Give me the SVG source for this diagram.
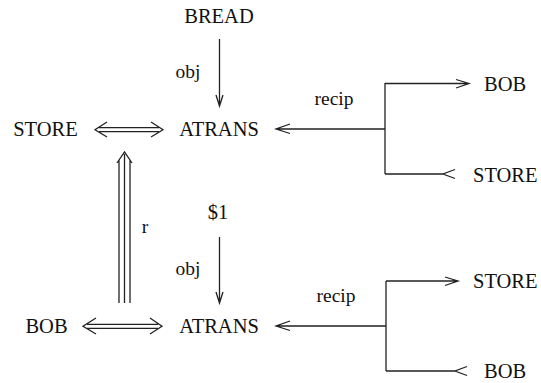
<svg xmlns="http://www.w3.org/2000/svg" width="541" height="383" viewBox="0 0 541 383">
<style>
text{font-family:"Liberation Serif","Times New Roman",serif;font-size:20.5px;fill:#111}
.lbl{font-size:19.5px}
.ln{fill:none;stroke:#222;stroke-width:1.3;stroke-linejoin:miter}
</style>
<rect width="541" height="383" fill="#fff"/>
<g id="connectors">
  <path class="ln" d="M219.5,39 V106 M216,95 L219.5,106 L223,95"/>
  <path class="ln" d="M99,127.7 H159 M99,131.7 H159 M107,122 L95,129.7 L107,137 M151,122 L163,129.7 L151,137"/>
  <path class="ln" d="M385,129 H277 M290,124 L276,129 L290,133.5"/>
  <path class="ln" d="M385,83 V174 M385,83.5 H468 M456,79.5 L469,83.5 L456,88 M385,174 H443 M455,169.5 L443,174 L455,178.5"/>
  <path class="ln" d="M119,303 V160 M124.5,303 V154 M130,303 V160 M117,163 L124.5,152 L132,163"/>
  <path class="ln" d="M219.5,237 V303 M216,292 L219.5,303 L223,292"/>
  <path class="ln" d="M87,324.3 H158 M87,328.3 H158 M96,318 L83,326.3 L96,334 M150,318 L162,326.3 L150,334"/>
  <path class="ln" d="M386,326 H277 M290,321 L276,326 L290,330.5"/>
  <path class="ln" d="M386,281 V371 M386,281 H457 M445,277 L458,281 L445,285.5 M386,371 H455 M467,366.5 L455,371 L467,375.5"/>
</g>
<g id="n-bread"><text x="219" y="23" text-anchor="middle">BREAD</text></g>
<g id="n-store-left"><text x="45.5" y="136" text-anchor="middle">STORE</text></g>
<g id="n-atrans-top"><text x="219" y="136" text-anchor="middle">ATRANS</text></g>
<g id="n-bob-top-right"><text x="484" y="91">BOB</text></g>
<g id="n-store-top-right"><text x="473" y="182">STORE</text></g>
<g id="n-dollar"><text x="218" y="219" text-anchor="middle">$1</text></g>
<g id="n-bob-left"><text x="46.5" y="333" text-anchor="middle">BOB</text></g>
<g id="n-atrans-bottom"><text x="219" y="333" text-anchor="middle">ATRANS</text></g>
<g id="n-store-bottom-right"><text x="473" y="288">STORE</text></g>
<g id="n-bob-bottom-right"><text x="484" y="378">BOB</text></g>
<g id="labels">
  <text class="lbl" x="188" y="78" text-anchor="middle">obj</text>
  <text class="lbl" x="334" y="105" text-anchor="middle">recip</text>
  <text class="lbl" x="145" y="233" text-anchor="middle">r</text>
  <text class="lbl" x="188" y="275" text-anchor="middle">obj</text>
  <text class="lbl" x="336" y="302" text-anchor="middle">recip</text>
</g>
</svg>
